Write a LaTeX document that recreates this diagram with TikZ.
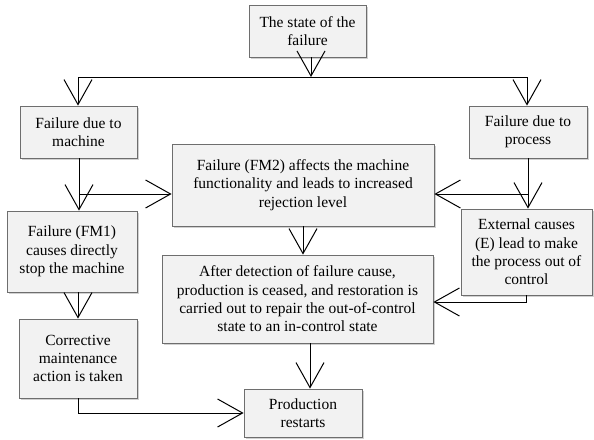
\documentclass[tikz,border=0pt]{standalone}
\usepackage{fontspec}
\setmainfont{Liberation Serif}
\usetikzlibrary{arrows.meta,shadows}
\definecolor{boxfill}{HTML}{F2F2F2}
\definecolor{boxline}{HTML}{6E6E6E}
\begin{document}
\begin{tikzpicture}[x=1pt,y=-1pt,
  box/.style={draw=boxline, fill=boxfill, line width=0.8pt, align=center, inner sep=0pt,
    font=\fontsize{15.5}{18.3}\selectfont,
    drop shadow={shadow xshift=2pt, shadow yshift=-2pt, fill=black, opacity=0.18}},
  arr/.style={-{Straight Barb[length=25pt,width=28pt]}, line width=1pt},
  ln/.style={line width=1pt}]
\useasboundingbox[fill=white] (0,0) rectangle (594,439);

\node[box, minimum width=117pt, minimum height=52pt] (state) at (307.5,31) {The state of the\\failure};
\node[box, minimum width=117pt, minimum height=52pt] (mach) at (78.5,132) {Failure due to\\machine};
\node[box, minimum width=118pt, minimum height=52pt] (proc) at (528,132) {Failure due to\\process};
\node[box, minimum width=262pt, minimum height=82pt] (fm2) at (303,185) {Failure (FM2) affects the machine\\functionality and leads to increased\\rejection level};
\node[box, minimum width=130pt, minimum height=81pt] (fm1) at (72,251.5) {Failure (FM1)\\causes directly\\stop the machine};
\node[box, minimum width=131pt, minimum height=86pt] (ext) at (526.5,252) {External causes\\(E) lead to make\\the process out of\\control};
\node[box, minimum width=271pt, minimum height=88pt] (after) at (297.5,299) {After detection of failure cause,\\production is ceased, and restoration is\\carried out to repair the out-of-control\\state to an in-control state};
\node[box, minimum width=118pt, minimum height=79pt] (corr) at (78,358.5) {Corrective\\maintenance\\action is taken};
\node[box, minimum width=118pt, minimum height=48pt] (prod) at (303,413) {Production\\restarts};

\coordinate (hl) at (78,77);
\coordinate (hr) at (527,77);
\coordinate (hc) at (311,77);
\coordinate (bl) at (79,194);
\coordinate (br) at (528,194);
\coordinate (ap) at (310,0);
\coordinate (ea) at (526,302);

\draw[arr] (state.south -| hc) -- (hc);
\draw[ln] (hl) -- (hr);
\draw[arr] (hl) -- (mach.north -| hl);
\draw[arr] (hr) -- (proc.north -| hr);

\draw[arr] (mach.south -| bl) -- (fm1.north -| bl);
\draw[arr] (bl) -- (fm2.west |- bl);
\draw[arr] (proc.south -| br) -- (ext.north -| br);
\draw[arr] (br) -- (fm2.east |- br);

\draw[arr] (fm2.south) -- (after.north -| fm2.south);
\draw[arr] (fm1.south -| corr.north) -- (corr.north);
\draw[arr] (after.south -| ap) -- (prod.north -| ap);
\draw[arr] (corr.south) |- (prod.west);
\draw[arr] (ext.south -| ea) |- (after.east |- ea);
\end{tikzpicture}
\end{document}
